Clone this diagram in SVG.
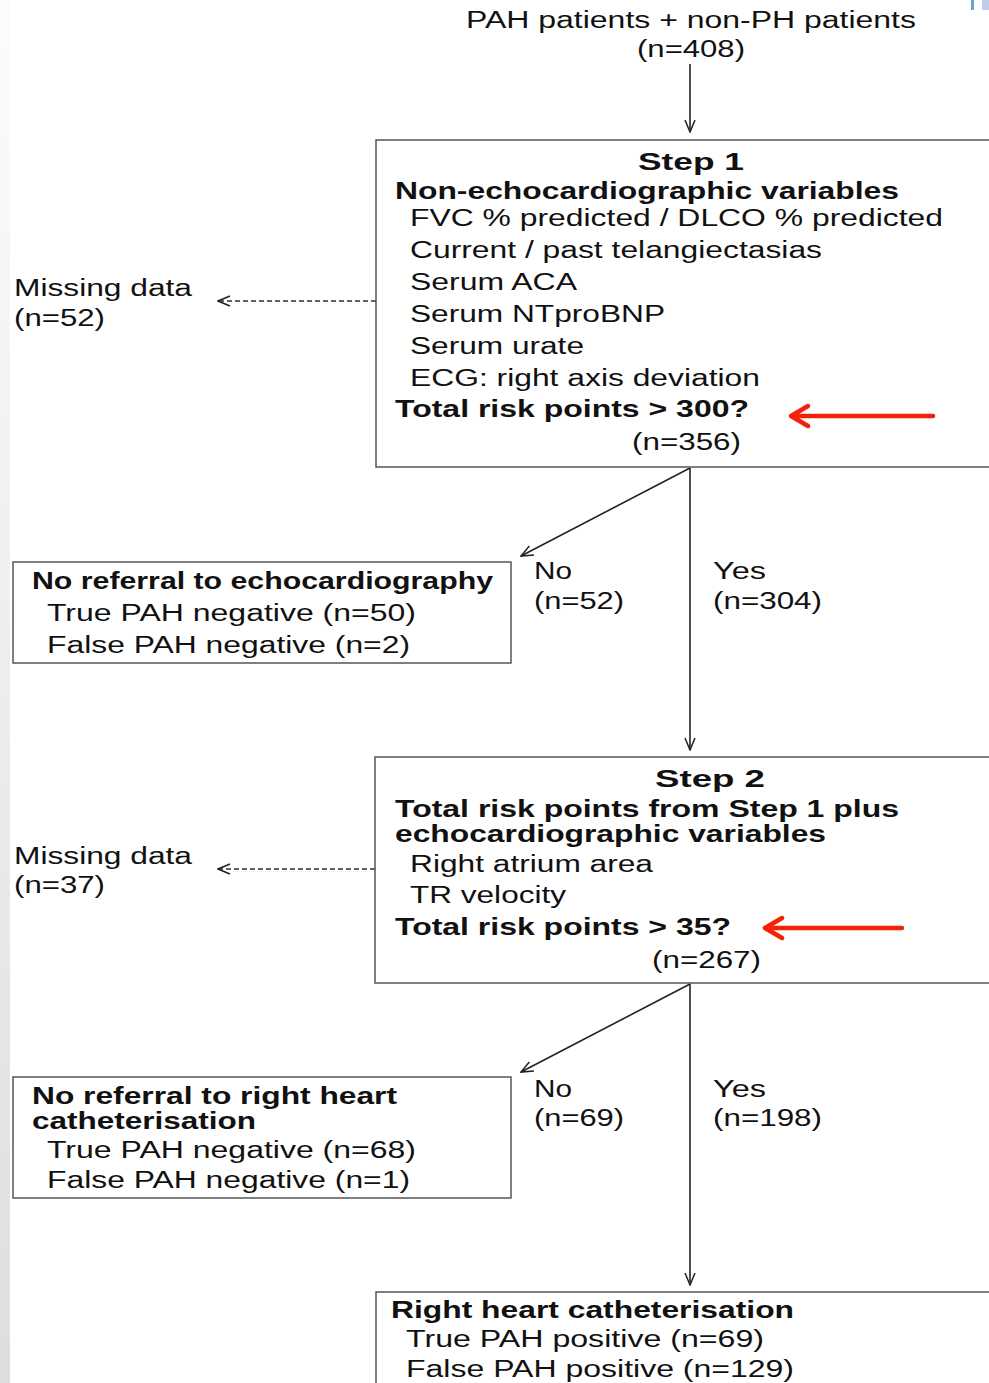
<svg xmlns="http://www.w3.org/2000/svg" width="989" height="1383" viewBox="0 0 989 1383">
<style>
text{font-family:"Liberation Sans",Arial,Helvetica,sans-serif;font-size:23px;fill:#111}
.b{font-weight:bold}
.box{fill:#fff;stroke:#555;stroke-width:1.5}
.ln{stroke:#222;stroke-width:1.6;fill:none}
.dash{stroke:#333;stroke-width:1.3;stroke-dasharray:5 3;fill:none}
.red{stroke:#f5200a;stroke-width:4.5;fill:none;stroke-linecap:round;stroke-linejoin:round}
</style>
<defs>
<linearGradient id="side" x1="0" y1="0" x2="0" y2="1">
<stop offset="0" stop-color="#fcfcfc"/>
<stop offset="1" stop-color="#dedede"/>
</linearGradient>
<marker id="ah" markerWidth="14" markerHeight="12" refX="13" refY="6" orient="auto" markerUnits="userSpaceOnUse">
<path d="M1,1 L13,6 L1,11" fill="none" stroke="#222" stroke-width="1.5"/>
</marker>
</defs>
<rect x="0" y="0" width="989" height="1383" fill="#fff"/>
<rect x="0" y="0" width="10" height="1383" fill="url(#side)"/>
<rect x="971" y="0" width="3" height="10" fill="#6f9fd6"/>
<rect x="982" y="0" width="7" height="10" fill="#bccfe8"/>

<g id="connectors">
<line class="ln" x1="690" y1="64" x2="690" y2="132" marker-end="url(#ah)"/>
<line class="dash" x1="376" y1="301" x2="218" y2="301" marker-end="url(#ah)"/>
<line class="ln" x1="690" y1="468" x2="521" y2="556" marker-end="url(#ah)"/>
<line class="ln" x1="690" y1="468" x2="690" y2="750" marker-end="url(#ah)"/>
<line class="dash" x1="375" y1="869" x2="218" y2="869" marker-end="url(#ah)"/>
<line class="ln" x1="690" y1="984" x2="521" y2="1072" marker-end="url(#ah)"/>
<line class="ln" x1="690" y1="984" x2="690" y2="1285" marker-end="url(#ah)"/>
</g>

<g id="start">
<text x="466" y="28" textLength="450" lengthAdjust="spacingAndGlyphs">PAH patients + non-PH patients</text>
<text x="637" y="57" textLength="108" lengthAdjust="spacingAndGlyphs">(n=408)</text>
</g>

<g id="step1">
<rect class="box" x="376" y="140" width="620" height="327"/>
<text class="b" x="638" y="170" font-size="25" textLength="106" lengthAdjust="spacingAndGlyphs">Step 1</text>
<text class="b" x="395" y="199" textLength="504" lengthAdjust="spacingAndGlyphs">Non-echocardiographic variables</text>
<text x="410" y="226" textLength="533" lengthAdjust="spacingAndGlyphs">FVC % predicted / DLCO % predicted</text>
<text x="410" y="258" textLength="412" lengthAdjust="spacingAndGlyphs">Current / past telangiectasias</text>
<text x="410" y="290" textLength="167" lengthAdjust="spacingAndGlyphs">Serum ACA</text>
<text x="410" y="322" textLength="255" lengthAdjust="spacingAndGlyphs">Serum NTproBNP</text>
<text x="410" y="354" textLength="174" lengthAdjust="spacingAndGlyphs">Serum urate</text>
<text x="410" y="386" textLength="350" lengthAdjust="spacingAndGlyphs">ECG: right axis deviation</text>
<text class="b" x="395" y="417" textLength="354" lengthAdjust="spacingAndGlyphs">Total risk points &gt; 300?</text>
<text x="632" y="450" textLength="109" lengthAdjust="spacingAndGlyphs">(n=356)</text>
<path class="red" d="M933,416 L791,416 M808,406 L791,416 L808,426"/>
</g>

<g id="missing1">
<text x="14" y="296" textLength="178" lengthAdjust="spacingAndGlyphs">Missing data</text>
<text x="14" y="326" textLength="91" lengthAdjust="spacingAndGlyphs">(n=52)</text>
</g>

<g id="branch1-labels">
<text x="534" y="579" textLength="38" lengthAdjust="spacingAndGlyphs">No</text>
<text x="534" y="609" textLength="90" lengthAdjust="spacingAndGlyphs">(n=52)</text>
<text x="713" y="579" textLength="53" lengthAdjust="spacingAndGlyphs">Yes</text>
<text x="713" y="609" textLength="109" lengthAdjust="spacingAndGlyphs">(n=304)</text>
</g>

<g id="noref1">
<rect class="box" x="13" y="562" width="498" height="101"/>
<text class="b" x="32" y="589" textLength="461" lengthAdjust="spacingAndGlyphs">No referral to echocardiography</text>
<text x="47" y="621" textLength="369" lengthAdjust="spacingAndGlyphs">True PAH negative (n=50)</text>
<text x="47" y="653" textLength="363" lengthAdjust="spacingAndGlyphs">False PAH negative (n=2)</text>
</g>

<g id="step2">
<rect class="box" x="375" y="757" width="621" height="226"/>
<text class="b" x="655" y="787" font-size="25" textLength="110" lengthAdjust="spacingAndGlyphs">Step 2</text>
<text class="b" x="395" y="817" textLength="504" lengthAdjust="spacingAndGlyphs">Total risk points from Step 1 plus</text>
<text class="b" x="395" y="842" textLength="431" lengthAdjust="spacingAndGlyphs">echocardiographic variables</text>
<text x="410" y="872" textLength="243" lengthAdjust="spacingAndGlyphs">Right atrium area</text>
<text x="410" y="903" textLength="156" lengthAdjust="spacingAndGlyphs">TR velocity</text>
<text class="b" x="395" y="935" textLength="336" lengthAdjust="spacingAndGlyphs">Total risk points &gt; 35?</text>
<text x="652" y="968" textLength="109" lengthAdjust="spacingAndGlyphs">(n=267)</text>
<path class="red" d="M902,928 L765,928 M782,918 L765,928 L782,938"/>
</g>

<g id="missing2">
<text x="14" y="864" textLength="178" lengthAdjust="spacingAndGlyphs">Missing data</text>
<text x="14" y="893" textLength="91" lengthAdjust="spacingAndGlyphs">(n=37)</text>
</g>

<g id="branch2-labels">
<text x="534" y="1097" textLength="38" lengthAdjust="spacingAndGlyphs">No</text>
<text x="534" y="1126" textLength="90" lengthAdjust="spacingAndGlyphs">(n=69)</text>
<text x="713" y="1097" textLength="53" lengthAdjust="spacingAndGlyphs">Yes</text>
<text x="713" y="1126" textLength="109" lengthAdjust="spacingAndGlyphs">(n=198)</text>
</g>

<g id="noref2">
<rect class="box" x="13" y="1077" width="498" height="121"/>
<text class="b" x="32" y="1104" textLength="365" lengthAdjust="spacingAndGlyphs">No referral to right heart</text>
<text class="b" x="32" y="1129" textLength="224" lengthAdjust="spacingAndGlyphs">catheterisation</text>
<text x="47" y="1158" textLength="369" lengthAdjust="spacingAndGlyphs">True PAH negative (n=68)</text>
<text x="47" y="1188" textLength="363" lengthAdjust="spacingAndGlyphs">False PAH negative (n=1)</text>
</g>

<g id="rhc">
<rect class="box" x="376" y="1292" width="620" height="100"/>
<text class="b" x="391" y="1318" textLength="403" lengthAdjust="spacingAndGlyphs">Right heart catheterisation</text>
<text x="406" y="1347" textLength="358" lengthAdjust="spacingAndGlyphs">True PAH positive (n=69)</text>
<text x="406" y="1377" textLength="388" lengthAdjust="spacingAndGlyphs">False PAH positive (n=129)</text>
</g>
</svg>
